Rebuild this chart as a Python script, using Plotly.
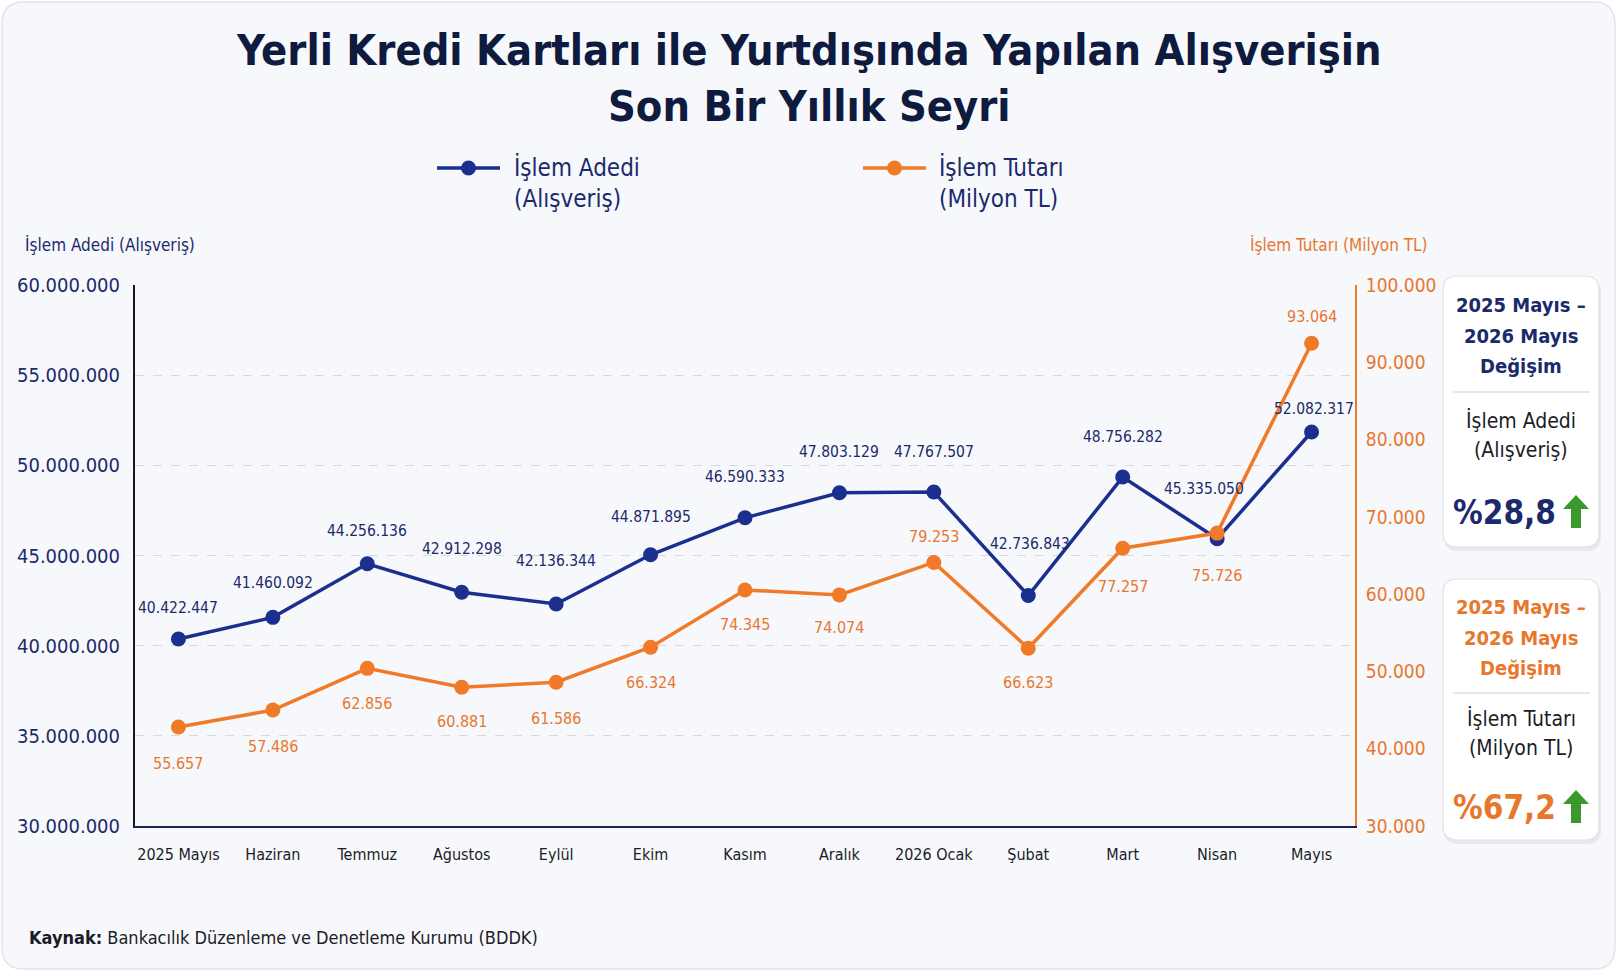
import plotly.graph_objects as go

# ---------------- data ----------------
months = ["2025 Mayıs", "Haziran", "Temmuz", "Ağustos", "Eylül", "Ekim", "Kasım",
          "Aralık", "2026 Ocak", "Şubat", "Mart", "Nisan", "Mayıs"]
adet_values = [40370000, 41570000, 44540000, 42960000, 42310000, 45040000, 47090000,
               48480000, 48520000, 42780000, 49350000, 45930000, 51850000]
adet_labels = ["40.422.447", "41.460.092", "44.256.136", "42.912.298", "42.136.344",
               "44.871.895", "46.590.333", "47.803.129", "47.767.507", "42.736.843",
               "48.756.282", "45.335.050", "52.082.317"]
tutar_values = [42800, 45000, 50400, 47960, 48600, 53130, 60540, 59900, 64100,
                53000, 65940, 67900, 92460]
tutar_labels = ["55.657", "57.486", "62.856", "60.881", "61.586", "66.324", "74.345",
                "74.074", "79.253", "66.623", "77.257", "75.726", "93.064"]
left_ticks = [30000000, 35000000, 40000000, 45000000, 50000000, 55000000, 60000000]
right_ticks = [30000, 40000, 50000, 60000, 70000, 80000, 90000, 100000]
change_adet = "28,8"
change_tutar = "67,2"

# ---------------- styles ----------------
FONT = "DejaVu Sans Condensed, Liberation Sans Narrow, Roboto Condensed, Roboto, sans-serif"
NAVY = "#1b2f8f"
NAVY_TXT = "#1b2a6b"
TITLE_C = "#0e1a3e"
ORANGE = "#f07a28"
ORANGE_TXT = "#e8772e"
DARK = "#1c1c28"
GREEN = "#3a9a2e"

adet_dy = [31, 34, 33, 43, 43, 38, 41, 41, 40, 52, 40, 50, 23]          # px up
adet_dx = [0, 0, 0, 0, 0, 0, 0, 0, 0, 2, 0, -13, 2]
tutar_dy = [-36, -36, -35, -34, -36, -35, -35, -33, 26, -34, -38, -42, 27]  # px up

W, H = 1618, 972
L, R, T, B = 135, 1355, 285, 826


def X(p):
    return (p - L) / (R - L)


def Y(p):
    return (B - p) / (B - T)


def rrect(x0, y0, x1, y1, r):
    return (f"M {X(x0 + r)},{Y(y0)} L {X(x1 - r)},{Y(y0)} Q {X(x1)},{Y(y0)} {X(x1)},{Y(y0 + r)} "
            f"L {X(x1)},{Y(y1 - r)} Q {X(x1)},{Y(y1)} {X(x1 - r)},{Y(y1)} "
            f"L {X(x0 + r)},{Y(y1)} Q {X(x0)},{Y(y1)} {X(x0)},{Y(y1 - r)} "
            f"L {X(x0)},{Y(y0 + r)} Q {X(x0)},{Y(y0)} {X(x0 + r)},{Y(y0)} Z")


def arrow(cx, top, bottom):
    hw, sw, hh = 13, 5, 14
    pts = [(cx, top), (cx + hw, top + hh), (cx + sw, top + hh), (cx + sw, bottom),
           (cx - sw, bottom), (cx - sw, top + hh), (cx - hw, top + hh)]
    return "M " + " L ".join(f"{X(a)},{Y(b)}" for a, b in pts) + " Z"


fig = go.Figure()
fig.add_trace(go.Scatter(x=months, y=adet_values, mode="lines+markers",
                         line=dict(color=NAVY, width=3.5),
                         marker=dict(size=15, color=NAVY), yaxis="y",
                         name="İşlem Adedi (Alışveriş)", showlegend=False))
fig.add_trace(go.Scatter(x=months, y=tutar_values, mode="lines+markers",
                         line=dict(color=ORANGE, width=3.5),
                         marker=dict(size=15, color=ORANGE), yaxis="y2",
                         name="İşlem Tutarı (Milyon TL)", showlegend=False))

ann = []
for i, m in enumerate(months):
    ann.append(dict(x=m, y=adet_values[i], xref="x", yref="y", text=adet_labels[i],
                    showarrow=False, yshift=adet_dy[i], xshift=adet_dx[i],
                    font=dict(family=FONT, size=15.5, color=NAVY_TXT)))
    ann.append(dict(x=m, y=tutar_values[i], xref="x", yref="y2", text=tutar_labels[i],
                    showarrow=False, yshift=tutar_dy[i],
                    font=dict(family=FONT, size=16, color=ORANGE_TXT)))


def txt(x, y, s, size, color, anchor="center", bold=False):
    if bold:
        s = f"<b>{s}</b>"
    ann.append(dict(x=X(x), y=Y(y), xref="paper", yref="paper", text=s, showarrow=False,
                    xanchor=anchor, yanchor="middle",
                    font=dict(family=FONT, size=size, color=color)))


# title
txt(809, 50, "Yerli Kredi Kartları ile Yurtdışında Yapılan Alışverişin", 43, TITLE_C, bold=True)
txt(809, 106, "Son Bir Yıllık Seyri", 43, TITLE_C, bold=True)
# legend texts
txt(512, 168, "İşlem Adedi", 24, NAVY_TXT, "left")
txt(512, 199, "(Alışveriş)", 24, NAVY_TXT, "left")
txt(937, 168, "İşlem Tutarı", 24, NAVY_TXT, "left")
txt(937, 199, "(Milyon TL)", 24, NAVY_TXT, "left")
# axis titles
txt(23, 245, "İşlem Adedi (Alışveriş)", 17, NAVY_TXT, "left")
txt(1430, 245, "İşlem Tutarı (Milyon TL)", 17, ORANGE_TXT, "right")
# box 1
bx = 1521
txt(bx, 305, "2025 Mayıs –", 20, NAVY_TXT, bold=True)
txt(bx, 336, "2026 Mayıs", 20, NAVY_TXT, bold=True)
txt(bx, 366, "Değişim", 20, NAVY_TXT, bold=True)
txt(bx, 420, "İşlem Adedi", 21, DARK)
txt(bx, 450, "(Alışveriş)", 21, DARK)
txt(1504, 512, "%" + change_adet, 33, NAVY_TXT, bold=True)
# box 2
txt(bx, 607, "2025 Mayıs –", 20, ORANGE_TXT, bold=True)
txt(bx, 638, "2026 Mayıs", 20, ORANGE_TXT, bold=True)
txt(bx, 668, "Değişim", 20, ORANGE_TXT, bold=True)
txt(bx, 718, "İşlem Tutarı", 21, DARK)
txt(bx, 748, "(Milyon TL)", 21, DARK)
txt(1504, 807, "%" + change_tutar, 33, ORANGE_TXT, bold=True)
# source
txt(27, 937, "<b>Kaynak:</b> Bankacılık Düzenleme ve Denetleme Kurumu (BDDK)", 18, DARK, "left")

shapes = []
# card background
shapes.append(dict(type="path", xref="paper", yref="paper", path=rrect(2, 2, 1615, 969, 22),
                   fillcolor="#f7f8fb", line=dict(color="#e1e4ea", width=1.5), layer="below"))
# legend symbols
for (x0, x1, c) in [(437, 500, NAVY), (863, 926, ORANGE)]:
    shapes.append(dict(type="line", xref="paper", yref="paper", x0=X(x0), x1=X(x1),
                       y0=Y(168), y1=Y(168), line=dict(color=c, width=3.5)))
    cx = (x0 + x1) / 2
    shapes.append(dict(type="circle", xref="paper", yref="paper", x0=X(cx - 7.5), x1=X(cx + 7.5),
                       y0=Y(168 + 7.5), y1=Y(168 - 7.5), fillcolor=c, line=dict(color=c, width=0)))
# info boxes
for (y0, y1, dv, ay) in [(276, 547, 392, 495), (579, 840, 693, 790)]:
    shapes.append(dict(type="path", xref="paper", yref="paper", path=rrect(1444, y0 + 3, 1601, y1 + 4, 14),
                       fillcolor="rgba(0,0,0,0.06)", line=dict(width=0), layer="below"))
    shapes.append(dict(type="path", xref="paper", yref="paper", path=rrect(1443, y0, 1599, y1, 14),
                       fillcolor="#ffffff", line=dict(color="#dde0e6", width=1.2), layer="below"))
    shapes.append(dict(type="line", xref="paper", yref="paper", x0=X(1453), x1=X(1590),
                       y0=Y(dv), y1=Y(dv), line=dict(color="#c9cdd4", width=1.2)))
    shapes.append(dict(type="path", xref="paper", yref="paper", path=arrow(1576, ay, ay + 33),
                       fillcolor=GREEN, line=dict(width=0)))

fig.update_layout(
    width=W, height=H,
    margin=dict(l=L, r=W - R, t=T, b=H - B),
    paper_bgcolor="#ffffff", plot_bgcolor="rgba(0,0,0,0)",
    separators=",.",
    showlegend=False,
    font=dict(family=FONT, color=DARK),
    xaxis=dict(type="category", range=[-0.46, 12.46], showgrid=False, zeroline=False,
               showline=True, linecolor="#1a2450", linewidth=2, ticks="",
               tickfont=dict(family=FONT, size=16, color=DARK), ticklabelstandoff=13),
    yaxis=dict(range=[30000000, 60000000], tickvals=left_ticks, tickformat=",d",
               showgrid=True, gridcolor="#d6d9df", griddash="dash", gridwidth=1,
               zeroline=False, showline=True, linecolor="#1a1a1a", linewidth=2,
               ticks="", ticklabelstandoff=9,
               tickfont=dict(family=FONT, size=20, color=NAVY_TXT)),
    yaxis2=dict(range=[30000, 100000], tickvals=right_ticks, tickformat=",d",
                overlaying="y", side="right", showgrid=False, zeroline=False,
                showline=True, linecolor=ORANGE, linewidth=2, ticks="", ticklabelstandoff=5,
                tickfont=dict(family=FONT, size=19, color=ORANGE_TXT)),
    annotations=ann,
    shapes=shapes,
)

fig.write_html("out.html")
